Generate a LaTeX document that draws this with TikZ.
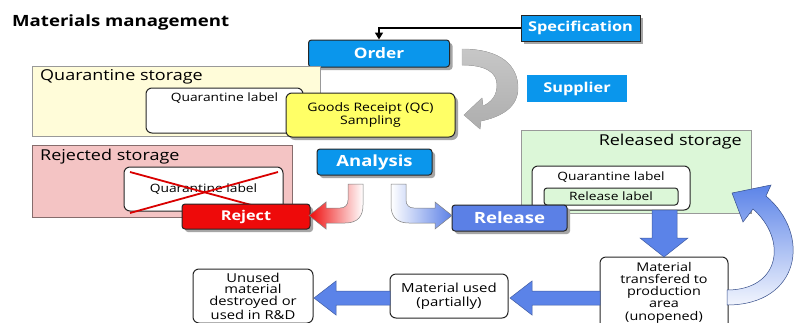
\documentclass[tikz,border=0pt]{standalone}
\usepackage{fontspec}
\setmainfont{Open Sans}[FakeStretch=1.2]
\usetikzlibrary{shadows,arrows.meta}
\definecolor{skyb}{HTML}{0A96EC}
\definecolor{relb}{HTML}{5B80E6}
\definecolor{arrb}{HTML}{5B83E8}
\definecolor{qfill}{HTML}{FFFCD9}
\definecolor{rfill}{HTML}{F4C4C4}
\definecolor{gfill}{HTML}{DCF7D8}
\definecolor{yel}{HTML}{FFFF66}
\definecolor{redb}{HTML}{EE0A0A}
\newcommand\myfs[2]{\fontsize{#1}{#2}\selectfont}
\tikzset{
  shad/.style={drop shadow={shadow xshift=3pt,shadow yshift=-3pt,fill=black!35,opacity=1}},
  bluebox/.style={draw=black!85,line width=1pt,rounded corners=3pt,fill=skyb,text=white,inner sep=0pt,shad},
  storage/.style={draw=black!40,line width=0.8pt,inner sep=0pt},
  lbl/.style={draw=black!85,line width=1pt,rounded corners=6pt,fill=white,inner sep=0pt,align=center},
  txt/.style={inner sep=0pt,align=center},
  blockarrow/.style={fill=arrb,draw=arrb!70!black,line width=0.5pt},
}
\begin{document}
\begin{tikzpicture}[x=1pt,y=-1pt]
\useasboundingbox (0,0) rectangle (808,322);
\fill[white] (0,0) rectangle (808,322);

% title
\node[txt,anchor=west,font={\myfs{15.5}{18}\bfseries}] (title) at (12,22) {Materials management};

% specification, order, supplier
\node[bluebox,rounded corners=0pt,minimum width=119pt,minimum height=26pt,font={\myfs{13.6}{16}\bfseries}] (spec) at (580.5,28) {Specification};
\node[bluebox,minimum width=141pt,minimum height=27pt,font={\myfs{14.4}{16}\bfseries}] (order) at (379,53.5) {Order};
\node[fill=skyb,text=white,inner sep=0pt,minimum width=100pt,minimum height=27pt,font={\myfs{13.6}{16}\bfseries}] (supplier) at (577,88.5) {Supplier};
\draw[line width=1.6pt,-{Triangle[length=7pt,width=8pt]}] (spec.west) -| (order.north);

% gray curved arrow order -> goods receipt
\fill[top color=black!22,bottom color=black!32,draw=black!30,line width=0.4pt]
  (462,49) .. controls (500,49) and (518,65) .. (518,88)
  .. controls (518,105) and (505,116) .. (481,121) -- (480,129) -- (464,115) -- (482,98)
  -- (483,106) .. controls (492,102) and (497,95) .. (497,85)
  .. controls (497,72) and (485,65) .. (462,65) -- cycle;

% quarantine storage
\node[storage,fill=qfill,minimum width=288pt,minimum height=70pt] (qstore) at (176,101) {};
\node[txt,anchor=west,font={\myfs{15}{18}}] (qstoretitle) at (40,77) {Quarantine storage};
\node[lbl,minimum width=157pt,minimum height=45pt] (qlabel) at (224.5,110.5) {};
\node[txt,font={\myfs{11.5}{14}}] (qlabeltext) at (224.5,98) {Quarantine label};
\node[lbl,fill=yel,minimum width=169pt,minimum height=44pt,font={\myfs{11.7}{12.5}},shad] (goods) at (370.5,115) {Goods Receipt (QC)\\Sampling};

% rejected storage
\node[storage,draw=black!45!rfill,fill=rfill,minimum width=260pt,minimum height=72pt] (rstore) at (162,181) {};
\node[txt,anchor=west,font={\myfs{15}{18}}] (rstoretitle) at (40,157) {Rejected storage};
\node[lbl,minimum width=159pt,minimum height=44pt,font={\myfs{11.5}{14}}] (rlabel) at (203.5,189) {Quarantine label};
\draw[red!85!black,line width=1.8pt] (130,172) -- (277,212);
\draw[red!85!black,line width=1.8pt] (130,213) -- (278,172);

% released storage
\node[storage,fill=gfill,minimum width=230pt,minimum height=83pt] (gstore) at (636,171.5) {};
\node[txt,anchor=east,font={\myfs{15}{18}}] (gstoretitle) at (742,142) {Released storage};
\node[lbl,minimum width=158pt,minimum height=44pt] (glabel) at (611,188) {};
\node[txt,font={\myfs{11.5}{14}}] (glabeltext) at (611,177) {Quarantine label};
\node[lbl,rounded corners=3pt,fill=gfill,minimum width=134pt,minimum height=17pt,font={\myfs{11.5}{14}}] (rellabel) at (611,196.5) {Release label};

% analysis, reject, release
\node[bluebox,minimum width=115pt,minimum height=26pt,font={\myfs{15.4}{17}\bfseries}] (analysis) at (374.5,162) {Analysis};
\node[bluebox,fill=redb,minimum width=128pt,minimum height=25pt,font={\myfs{13.5}{16}\bfseries}] (reject) at (246,216.5) {Reject};
\node[bluebox,fill=relb,minimum width=115pt,minimum height=26pt,font={\myfs{15.5}{17}\bfseries}] (release) at (509.5,218) {Release};

% analysis -> reject (red) and -> release (blue)
\path[left color=redb,right color=white,draw=black!50,line width=0.5pt]
  (348,184) -- (348,200) .. controls (348,205) and (345,208) .. (340,208)
  -- (326,208) -- (326,202) -- (309,215.5) -- (326,229) -- (326,223)
  -- (345,223) .. controls (358,223) and (363,216) .. (363,205) -- (363,184) -- cycle;
\path[left color=white,right color=relb,draw=black!50,line width=0.5pt]
  (391,184) -- (391,205) .. controls (391,216) and (396,223) .. (409,223)
  -- (435,223) -- (435,229) -- (452,215.5) -- (435,202) -- (435,208)
  -- (414,208) .. controls (409,208) and (406,205) .. (406,200) -- (406,184) -- cycle;

% lower flow
\node[lbl,minimum width=128pt,minimum height=78pt] (transf) at (664,296) {};
\node[txt,font={\myfs{12}{12.3}}] (transftext) at (664,292.5) {Material\\transfered to\\production\\area\\(unopened)};
\node[lbl,minimum width=118pt,minimum height=44pt,font={\myfs{12.5}{13.5}}] (used) at (449,296) {Material used\\(partially)};
\node[lbl,minimum width=120pt,minimum height=54pt,font={\myfs{12.3}{11.8}}] (unused) at (253,296) {Unused\\material\\destroyed or\\used in R\&D};

% block arrows
\path[blockarrow] (652,210) -- (652,238) -- (640,238) -- (664,257) -- (688,238) -- (677,238) -- (677,210) -- cycle;
\path[blockarrow] (600,291) -- (532,291) -- (532,281) -- (510,298) -- (532,315) -- (532,305) -- (600,305) -- cycle;
\path[blockarrow] (390,291) -- (336,291) -- (336,281) -- (314,298) -- (336,315) -- (336,305) -- (390,305) -- cycle;

% curved return arrow
\path[top color=arrb,bottom color=arrb!8,draw=arrb!60!black,line width=0.5pt]
  (727,305) .. controls (800,305) and (812,235) .. (766,196)
  -- (771,185) -- (732,193) -- (743,222) -- (753,209)
  .. controls (788,240) and (780,290) .. (727,290) -- cycle;
\end{tikzpicture}
\end{document}
